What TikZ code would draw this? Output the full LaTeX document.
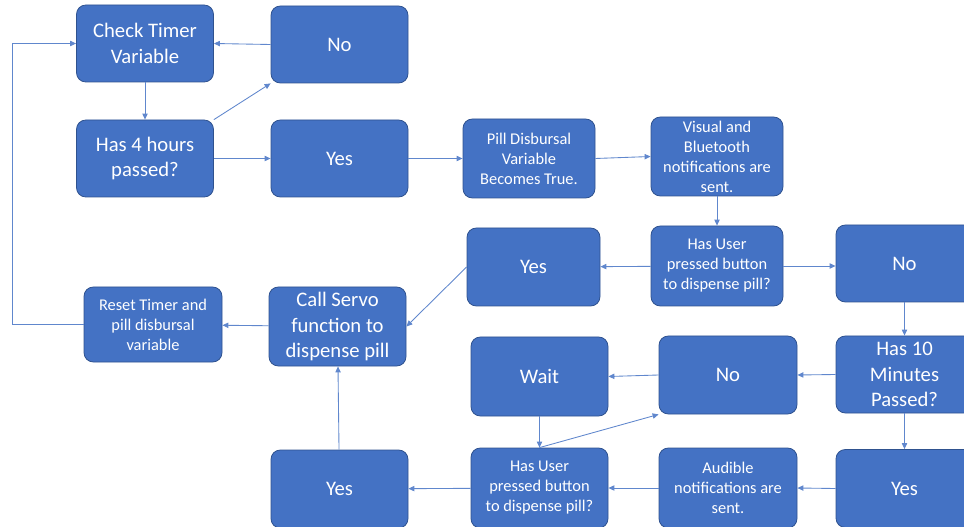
\documentclass[tikz,border=0pt]{standalone}
\usepackage{fontspec}
\setmainfont{Carlito}
\usepackage{xcolor}
\usepackage{tikz}
\usetikzlibrary{arrows.meta}
\definecolor{boxblue}{HTML}{4472C4}
\definecolor{boxedge}{HTML}{2F528F}
\tikzset{
	box/.style={
			rectangle, rounded corners=7pt, draw=boxedge, line width=0.6pt, fill=boxblue,
			text=white, align=center, inner sep=0pt,
			minimum width=102.75pt, minimum height=57.75pt,
			font=\fontsize{15.5}{19}\selectfont
		},
	smalltext/.style={font=\fontsize{12.3}{15}\selectfont},
	link/.style={draw=boxblue!85, line width=0.65pt, -{Triangle[length=4.5pt,width=4pt]}}
}
\begin{document}
\begin{tikzpicture}[x=0.75pt, y=-0.75pt]%[baseline={(current bounding box.center)}]
			\clip (0,0) rectangle (964,527);

			\node[box] (check) at (145,43.5) {Check Timer\\Variable};
			\node[box] (no1) at (339.5,44.5) {No};
			\node[box] (hours) at (145,158.5) {Has 4 hours\\passed?};
			\node[box] (yes1) at (339.5,158.5) {Yes};
			\node[box, smalltext, minimum width=99pt, minimum height=59.25pt] (pill) at (529,158.5) {Pill Disbursal\\Variable\\Becomes True.};
			\node[box, smalltext, minimum width=99pt, minimum height=59.25pt] (notify) at (717,156.5) {Visual and\\Bluetooth\\notifications are\\sent.};
			\node[box, smalltext, minimum width=99pt, minimum height=60pt] (press1) at (717,266) {Has User\\pressed button\\to dispense pill?};
			\node[box, minimum width=99.75pt, minimum height=58.5pt] (yes2) at (533.5,267) {Yes};
			\node[box] (no2) at (904.5,263.5) {No};
			\node[box, smalltext, minimum width=103.5pt, minimum height=56.25pt] (reset) at (153,324.5) {Reset Timer and\\pill disbursal\\variable};
			\node[box, minimum height=59.25pt] (servo) at (337.5,326.5) {Call Servo\\function to\\dispense pill};
			\node[box, minimum height=59.25pt] (wait) at (539.5,376.5) {Wait};
			\node[box, minimum width=103.5pt, minimum height=58.5pt] (no3) at (728,375) {No};
			\node[box] (minutes) at (904.5,374.5) {Has 10\\Minutes\\Passed?};
			\node[box, smalltext, minimum height=60pt] (press2) at (539.5,488) {Has User\\pressed button\\to dispense pill?};
			\node[box, smalltext, minimum width=103.5pt, minimum height=60pt] (audible) at (728,488) {Audible\\notifications are\\sent.};
			\node[box, minimum height=58.5pt] (yes3) at (904.5,488.5) {Yes};
			\node[box, minimum height=58.5pt] (yes4) at (339.5,489) {Yes};

			\coordinate (loop) at (12,43.5);

			\draw[link] (check) -- (hours);
			\draw[link] (hours.north east) -- (no1.south west);
			\draw[link] (no1.west) -- (check.east);
			\draw[link] (hours) -- (yes1);
			\draw[link] (yes1) -- (pill);
			\draw[link] (pill.east) -- (notify.west);
			\draw[link] (notify) -- (press1);
			\draw[link] (press1) -- (yes2);
			\draw[link] (press1.east) -- (press1.east -| no2.west);
			\draw[link] (yes2.west) -- (servo.east);
			\draw[link] (servo) -- (reset);
			\draw[link] (reset.west) -| (loop) -- (check.west);
			\draw[link] (no2) -- (minutes);
			\draw[link] (minutes.west) -- (no3.east);
			\draw[link] (minutes) -- (yes3);
			\draw[link] (no3.west) -- (wait.east);
			\draw[link] (wait) -- (press2);
			\draw[link] (press2.north) -- (no3.south west);
			\draw[link] (yes3.west) -- (audible.east);
			\draw[link] (audible) -- (press2);
			\draw[link] (press2) -- (yes4);
			\draw[link] (yes4) -- (servo);
		\end{tikzpicture}
\end{document}
